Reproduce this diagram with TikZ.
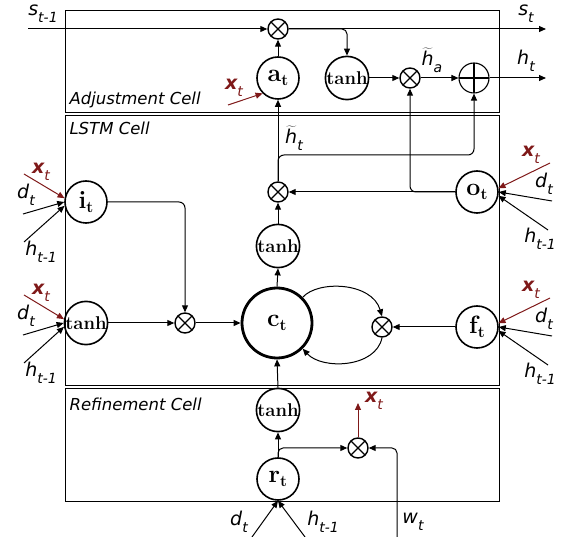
\documentclass[tikz,border=0pt]{standalone}
\usepackage{fontspec}
\newfontfamily\labfont{DejaVu Sans}
\usetikzlibrary{arrows.meta,calc}
\definecolor{CellInk}{HTML}{000000}
\definecolor{InputRed}{HTML}{7F1919}
\newcommand{\lbl}[2]{{\labfont\itshape\fontsize{19}{20}\selectfont #1\raisebox{-7pt}{\fontsize{14}{15}\selectfont #2}}}
\newcommand{\xin}{{\color{InputRed}\labfont\bfseries\itshape\fontsize{19}{20}\selectfont x\raisebox{-7pt}{\mdseries\fontsize{14}{15}\selectfont t}}}
\newcommand{\tildeh}{$\widetilde{\mbox{h}}$}
\newcommand{\gatelbl}[1]{{\rmfamily\bfseries\fontsize{25}{26}\selectfont #1\raisebox{-4pt}{\fontsize{16}{16}\selectfont t}}}
\newcommand{\tanhlbl}{{\rmfamily\bfseries\fontsize{18.5}{19}\selectfont tanh}}
\tikzset{
  cell/.style={draw=CellInk, line width=1pt},
  gate/.style={circle, draw=CellInk, line width=1.6pt, minimum size=42pt, inner sep=0pt},
  core/.style={gate, line width=2.8pt, minimum size=70pt},
  mult/.style={circle, draw=CellInk, line width=1.4pt, minimum size=20pt, inner sep=0pt,
    path picture={\draw[line width=1.4pt] (path picture bounding box.north west) -- (path picture bounding box.south east)
      (path picture bounding box.north east) -- (path picture bounding box.south west);}},
  sum/.style={circle, draw=CellInk, line width=1.1pt, minimum size=30pt, inner sep=0pt,
    path picture={\draw[line width=1.1pt] (path picture bounding box.north) -- (path picture bounding box.south)
      (path picture bounding box.west) -- (path picture bounding box.east);}},
  flow/.style={-{Triangle[length=7pt,width=6pt]}, draw=CellInk, line width=1pt},
  feed/.style={flow, draw=InputRed},
  caption/.style={anchor=west, font=\labfont\itshape\fontsize{16.5}{17}\selectfont},
}
\begin{document}
\begin{tikzpicture}[x=1pt,y=-1pt]
  \useasboundingbox (0,0) rectangle (566,537);
  % Three cells
  \draw[cell] (65,11) rectangle (499,113);
  \draw[cell] (65,116) rectangle (499,386);
  \draw[cell] (65,389) rectangle (499,502);
  \node[caption] (capA) at (66,100) {Adjustment Cell};
  \node[caption] (capL) at (66,128) {LSTM Cell};
  \node[caption] (capR) at (66,404) {Refinement Cell};
  % Adjustment cell
  \node[mult] (mulS) at (278,29) {};
  \node[gate] (gateA) at (278,78) {\gatelbl{a}};
  \node[gate] (tanhA) at (347,78) {\tanhlbl};
  \node[mult] (mulA) at (410,78) {};
  \node[sum] (sumH) at (474,78) {};
  \coordinate (sIn) at (28,29);
  \coordinate (sOut) at (546,29);
  \coordinate (hOut) at (546,78);
  \coordinate (xA) at (228,105);
  \draw[flow] (sIn) -- (mulS.west);
  \draw[flow] (mulS.east) -- (sOut);
  \draw[flow, rounded corners=5pt] (mulS.east) -| (tanhA.north);
  \draw[flow] (gateA.north) -- (mulS.south);
  \draw[flow] (tanhA.east) -- (mulA.west);
  \draw[flow] (mulA.east) -- (sumH.west);
  \draw[flow] (sumH.east) -- (hOut);
  \draw[feed] (xA) -- (gateA.225);
  \node (lblS0) at (43,14) {\lbl{s}{t-1}};
  \node (lblS1) at (526,14) {\lbl{s}{t}};
  \node (lblH1) at (526,61) {\lbl{h}{t}};
  \node (lblHa) at (432,60) {\lbl{\tildeh}{a}};
  \node (lblXa) at (234,88) {\xin};
  % LSTM cell
  \node[gate] (gateI) at (86,202) {\gatelbl{i}};
  \node[gate] (tanhI) at (86,323) {\tanhlbl};
  \node[mult] (mulI) at (185,323) {};
  \node[core] (cellC) at (277,323) {\gatelbl{c}};
  \node[gate] (tanhC) at (278,246) {\tanhlbl};
  \node[mult] (mulO) at (278,192) {};
  \node[mult] (mulF) at (382,327) {};
  \node[gate] (gateO) at (477,192) {\gatelbl{o}};
  \node[gate] (gateF) at (477,327) {\gatelbl{f}};
  \coordinate (hBend) at (474,155);
  \draw[flow] (mulO.north) -- (gateA.south);
  \draw[flow, rounded corners=6pt] (mulO.north) |- (hBend) -- (sumH.south);
  \draw[flow] (gateO.west) -- (mulO.east);
  \draw[flow, rounded corners=6pt] (gateO.west) -| (mulA.south);
  \draw[flow] (tanhC.north) -- (mulO.south);
  \draw[flow] (cellC.north) -- (tanhC.south);
  \draw[flow, rounded corners=6pt] (gateI.east) -| (mulI.north);
  \draw[flow] (tanhI.east) -- (mulI.west);
  \draw[flow] (mulI.east) -- (cellC.west);
  \draw[flow] (gateF.west) -- (mulF.east);
  \draw[flow] (cellC.45) .. controls (318,280) and (372,282) .. (mulF.north);
  \draw[flow] (mulF.south) .. controls (376,368) and (322,370) .. (cellC.-45);
  \node (lblHt) at (294,138) {\lbl{\tildeh}{t}};
  % Gate inputs from the left
  \foreach \g in {gateI, tanhI}{
    \coordinate (\g-x) at ($(\g)+(-62,-28)$);
    \coordinate (\g-d) at ($(\g)+(-63,12)$);
    \coordinate (\g-h) at ($(\g)+(-62,40)$);
    \draw[feed] (\g-x) -- (\g.170);
    \draw[flow] (\g-d) -- (\g.west);
    \draw[flow] (\g-h) -- (\g.190);
    \node at ($(\g)+(-45,-30)$) {\xin};
    \node at ($(\g)+(-60,-7)$) {\lbl{d}{t}};
    \node at ($(\g)+(-45,50)$) {\lbl{h}{t-1}};
  }
  % Gate inputs from the right
  \foreach \g in {gateO, gateF}{
    \coordinate (\g-x) at ($(\g)+(73,-29)$);
    \coordinate (\g-d) at ($(\g)+(75,9)$);
    \coordinate (\g-h) at ($(\g)+(71,38)$);
    \draw[feed] (\g-x) -- (\g.10);
    \draw[flow] (\g-d) -- (\g.east);
    \draw[flow] (\g-h) -- (\g.-10);
    \node at ($(\g)+(54,-37)$) {\xin};
    \node at ($(\g)+(67,-8)$) {\lbl{d}{t}};
    \node at ($(\g)+(63,47)$) {\lbl{h}{t-1}};
  }
  % Refinement cell
  \node[gate] (tanhR) at (278,410) {\tanhlbl};
  \node[gate] (gateR) at (278,479) {\gatelbl{r}};
  \node[mult] (mulR) at (358,448) {};
  \coordinate (xR) at (358,403);
  \coordinate (dR) at (252,537);
  \coordinate (hR) at (305,537);
  \coordinate (wR) at (397,537);
  \draw[flow] (gateR.north) -- (tanhR.south);
  \draw[flow] (tanhR.north) -- (cellC.south);
  \draw[flow, rounded corners=5pt] (gateR.north) |- (mulR.west);
  \draw[flow, rounded corners=5pt] (wR) |- (mulR.east);
  \draw[feed] (mulR.north) -- (xR);
  \draw[flow] (dR) -- (gateR.south);
  \draw[flow] (hR) -- (gateR.south);
  \node (lblXr) at (374,401) {\xin};
  \node (lblDr) at (239,522) {\lbl{d}{t}};
  \node (lblHr) at (323,522) {\lbl{h}{t-1}};
  \node (lblWr) at (413,522) {\lbl{w}{t}};
\end{tikzpicture}
\end{document}
